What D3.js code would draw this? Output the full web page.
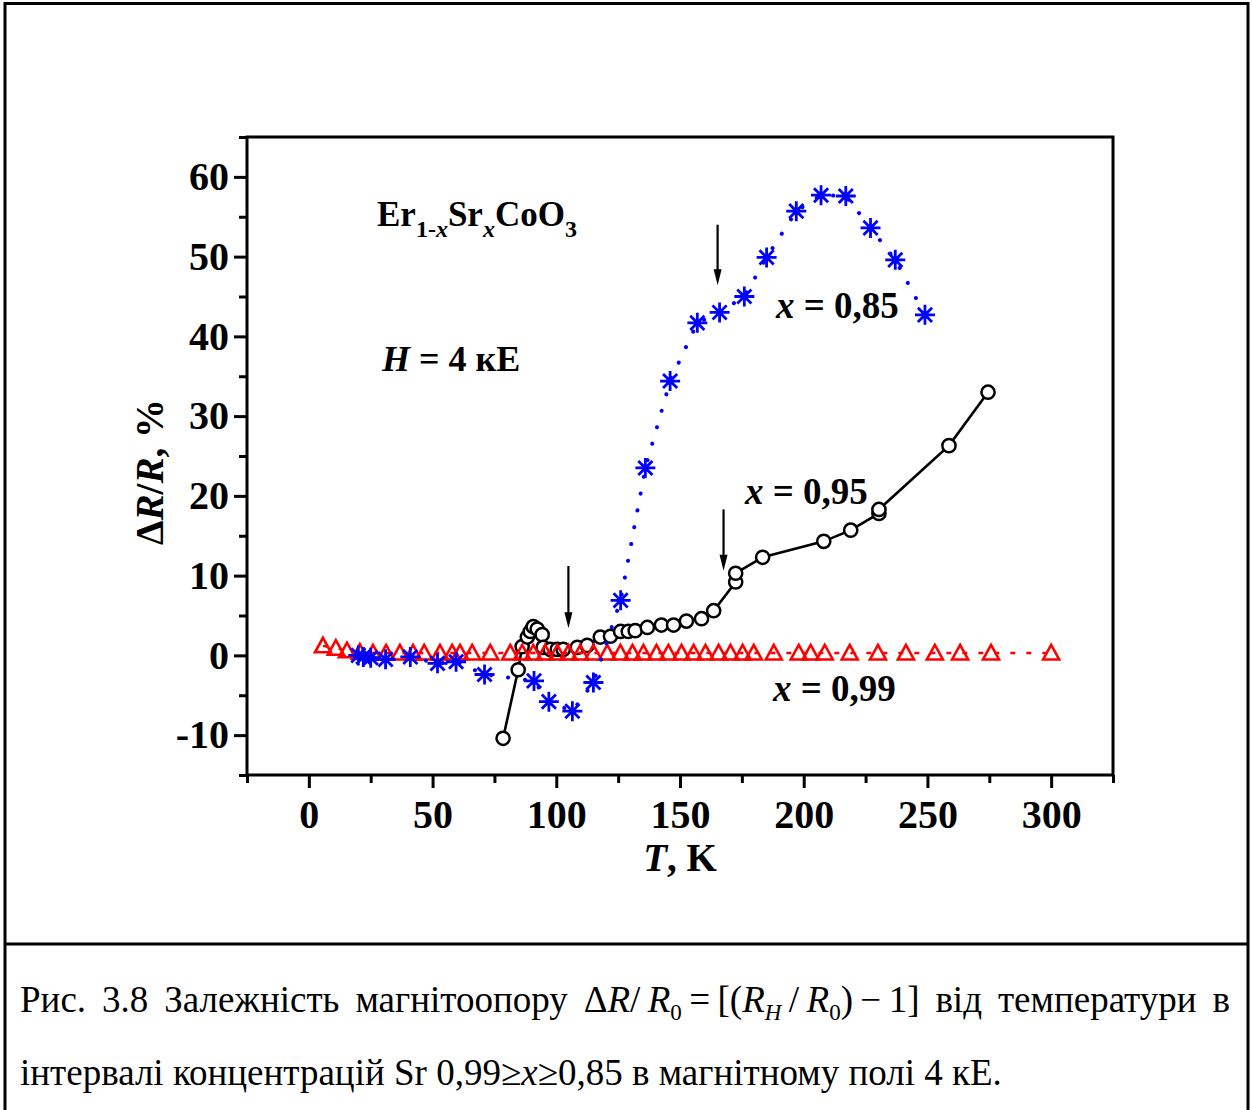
<!DOCTYPE html>
<html><head><meta charset="utf-8">
<script src="https://cdn.jsdelivr.net/npm/d3@7"></script>
<style>body{margin:0;background:#fff}svg{display:block}</style>
</head><body>
<svg id="c" width="1252" height="1110"></svg>
<script>
// ---- data ----
const T085 = [20, 22, 25, 31, 41, 52, 59.5, 71, 91, 97, 106.5, 115, 126, 136, 146, 157, 166, 176, 185, 197, 207, 217, 227, 237, 249];
const V085 = [0, -0.2, -0.3, -0.5, -0.2, -1.0, -0.8, -2.4, -3.2, -5.8, -7.0, -3.4, 6.9, 23.5, 34.4, 41.7, 43.0, 45.0, 49.9, 55.7, 57.7, 57.6, 53.6, 49.6, 42.7];

const T095 = [78.5, 84.6, 86.2, 88.3, 89.5, 90.7, 92.3, 94.3, 94.7, 97.6, 100.4, 102.8, 108.5, 112.5, 117.8, 121.9, 126, 129.1, 131.9, 136.8, 142.5, 147.4, 152.6, 158.7, 163.6, 172.5, 172.5, 183.4, 208.1, 219, 230.4, 230.4, 258.7, 274.5];
const V095 = [-10.4, -1.8, 1.1, 2.3, 3.0, 3.6, 3.3, 2.6, 1.0, 0.75, 0.75, 0.75, 1.0, 1.25, 2.3, 2.4, 3.0, 3.0, 3.1, 3.5, 3.8, 3.8, 4.3, 4.6, 5.6, 9.2, 10.3, 12.3, 14.3, 15.7, 17.8, 18.3, 26.3, 33.0];

const T099 = [5.7, 10.9, 15.4, 20.6, 25.9, 31.2, 36.8, 42.1, 46.6, 53.0, 57.9, 61.1, 66.0, 73.3, 81.4, 86.2, 90.7, 95.5, 100.4, 104.9, 109.7, 115.0, 120.6, 125.9, 130.8, 135.2, 140.5, 145.3, 150.6, 155.5, 160.3, 165.6, 170.4, 175.3, 179.8, 187.9, 198, 202.8, 208.5, 218.6, 230, 241.3, 253, 263.2, 275.7, 300];
const V099 = [1.2, 0.9, 0.6, 0.4, 0.3, 0.3, 0.3, 0.3, 0.3, 0.3, 0.3, 0.3, 0.3, 0.3, 0.3, 0.3, 0.3, 0.3, 0.3, 0.3, 0.3, 0.3, 0.3, 0.3, 0.3, 0.3, 0.3, 0.3, 0.3, 0.3, 0.3, 0.3, 0.3, 0.3, 0.3, 0.3, 0.3, 0.3, 0.3, 0.3, 0.3, 0.3, 0.3, 0.3, 0.3, 0.3];

const xMajor = [0, 50, 100, 150, 200, 250, 300];
const xMinor = [-25, 25, 75, 125, 175, 225, 275, 325];
const yMajor = [-10, 0, 10, 20, 30, 40, 50, 60];
const yMinor = [-15, -5, 5, 15, 25, 35, 45, 55, 65];

// arrows: [T, V start, V end]
const arrowsT = [104.9, 165.2, 167.6];
const arrowsV0 = [11.2, 54.0, 18.3];
const arrowsV1 = [3.4, 46.4, 10.6];

// ---- chart ----
const svg = d3.select('#c');
const F = '"Liberation Serif","Times New Roman",serif';
const L = 247, R = 1113, TOP = 137, BOT = 775;
const x = d3.scaleLinear().domain([-25, 325]).range([L, R]);
const y = d3.scaleLinear().domain([-15, 65]).range([BOT, TOP]);

// outer figure border
svg.append('path').attr('d', 'M5,1112 V3.5 H1248 V1112 M5,944 H1248')
  .attr('fill', 'none').attr('stroke', '#000').attr('stroke-width', 3);

// axes
function styleAxis(g, fs) {
  g.select('.domain').remove();
  g.selectAll('.tick line').attr('stroke', '#000').attr('stroke-width', 3);
  g.selectAll('text').attr('font-family', F).attr('font-weight', 'bold').attr('font-size', fs).attr('fill', '#000');
}
const fmt = d => String(d);
const gxMin = svg.append('g').attr('transform', `translate(0,${BOT})`)
  .call(d3.axisBottom(x).tickValues(xMinor).tickSize(8).tickFormat(''));
styleAxis(gxMin, 40);
const gx = svg.append('g').attr('transform', `translate(0,${BOT})`)
  .call(d3.axisBottom(x).tickValues(xMajor).tickSize(13).tickPadding(12).tickFormat(fmt));
styleAxis(gx, 40);
const gyMin = svg.append('g').attr('transform', `translate(${L},0)`)
  .call(d3.axisLeft(y).tickValues(yMinor).tickSize(8).tickFormat(''));
styleAxis(gyMin, 40);
const gy = svg.append('g').attr('transform', `translate(${L},0)`)
  .call(d3.axisLeft(y).tickValues(yMajor).tickSize(13).tickPadding(5).tickFormat(fmt));
styleAxis(gy, 40);

svg.append('rect').attr('x', L).attr('y', TOP).attr('width', R - L).attr('height', BOT - TOP)
  .attr('fill', 'none').attr('stroke', '#000').attr('stroke-width', 3);

const line = d3.line().x(d => x(d[0])).y(d => y(d[1]));
const d85 = T085.map((t, i) => [t, V085[i]]);
const d95 = T095.map((t, i) => [t, V095[i]]);
const d99 = T099.map((t, i) => [t, V099[i]]);

// x=0.95 : black solid line + open circles
svg.append('path').datum(d95).attr('d', line).attr('fill', 'none')
  .attr('stroke', '#000').attr('stroke-width', 2.6);
svg.append('g').selectAll('circle').data(d95).join('circle')
  .attr('cx', d => x(d[0])).attr('cy', d => y(d[1])).attr('r', 6.6)
  .attr('fill', '#fff').attr('stroke', '#000').attr('stroke-width', 2.5);

// x=0.99 : red dashed + open triangles
svg.append('path').datum(d99).attr('d', line).attr('fill', 'none')
  .attr('stroke', '#ff0000').attr('stroke-width', 2.4).attr('stroke-dasharray', '5 11');
const tri = 'M0,-8 L8,6.5 L-8,6.5 Z';
svg.append('g').selectAll('path').data(d99).join('path')
  .attr('transform', d => `translate(${x(d[0])},${y(d[1])})`).attr('d', tri)
  .attr('fill', 'none').attr('stroke', '#ff0000').attr('stroke-width', 2.6).attr('stroke-linejoin', 'miter');

// x=0.85 : blue dotted + asterisks
svg.append('path').datum(d85).attr('d', line).attr('fill', 'none')
  .attr('stroke', '#0000ff').attr('stroke-width', 4).attr('stroke-linecap', 'round')
  .attr('stroke-dasharray', '0.1 17');
const s = 10, d45 = s * Math.SQRT1_2;
const star = `M0,${-s}V${s}M${-s},0H${s}M${-d45},${-d45}L${d45},${d45}M${-d45},${d45}L${d45},${-d45}`;
svg.append('g').selectAll('path').data(d85).join('path')
  .attr('transform', d => `translate(${x(d[0])},${y(d[1])})`).attr('d', star)
  .attr('fill', 'none').attr('stroke', '#0000ff').attr('stroke-width', 2.8);

// arrows
arrowsT.forEach((t, i) => {
  const ax = x(t), y0 = y(arrowsV0[i]), y1 = y(arrowsV1[i]);
  svg.append('line').attr('x1', ax).attr('x2', ax).attr('y1', y0).attr('y2', y1 - 10)
    .attr('stroke', '#000').attr('stroke-width', 2.2);
  svg.append('path').attr('d', `M${ax - 4},${y1 - 16} L${ax + 4},${y1 - 16} L${ax},${y1} Z`).attr('fill', '#000');
});

// texts
function addText(px, py, parts, fs, opts = {}) {
  const t = svg.append('text').attr('x', px).attr('y', py).attr('font-family', F)
    .attr('font-size', fs).attr('font-weight', opts.normal ? 'normal' : 'bold').attr('fill', '#000');
  if (opts.anchor) t.attr('text-anchor', opts.anchor);
  if (opts.rotate) t.attr('transform', `rotate(${opts.rotate},${px},${py})`);
  parts.forEach(p => {
    const ts = t.append('tspan').text(p.t);
    if (p.i) ts.attr('font-style', 'italic');
    if (p.fs) ts.attr('font-size', p.fs);
    if (p.dy) ts.attr('dy', p.dy);
  });
  return t;
}
addText(377, 226, [{t: 'Er'}, {t: '1-', fs: 24, dy: 11}, {t: 'x', i: 1, fs: 24}, {t: 'Sr', dy: -11},
  {t: 'x', i: 1, fs: 24, dy: 11}, {t: 'CoO', dy: -11}, {t: '3', fs: 24, dy: 11}], 35);
addText(382, 371, [{t: 'H', i: 1}, {t: ' = 4 кЕ'}], 36);
addText(776, 318, [{t: 'x', i: 1}, {t: ' = 0,85'}], 37);
addText(745, 504, [{t: 'x', i: 1}, {t: ' = 0,95'}], 37);
addText(773, 701, [{t: 'x', i: 1}, {t: ' = 0,99'}], 37);

// axis titles
addText(680, 871, [{t: 'T', i: 1}, {t: ', K'}], 39, {anchor: 'middle'});
addText(163, 472, [{t: 'Δ'}, {t: 'R', i: 1}, {t: '/'}, {t: 'R', i: 1}, {t: ', %'}], 39, {anchor: 'middle', rotate: -90});

// caption
const cap1 = addText(20, 1012, [
  {t: 'Рис. 3.8 Залежність магнітоопору '},
  {t: 'Δ'}, {t: 'R', i: 1}, {t: '/\u2009'}, {t: 'R', i: 1}, {t: '0', fs: 23, dy: 8},
  {t: '\u2009=\u2009[(', dy: -8}, {t: 'R', i: 1}, {t: 'H', i: 1, fs: 23, dy: 8},
  {t: '\u2009/\u2009', dy: -8}, {t: 'R', i: 1}, {t: '0', fs: 23, dy: 8},
  {t: ')\u2009−\u20091]', dy: -8}, {t: ' від температури в'}], 37, {normal: 1});
const len = cap1.node().getComputedTextLength();
const nsp = (cap1.text().match(/ /g) || []).length;
cap1.attr('word-spacing', Math.max(0, (1230 - 20 - len) / nsp));
addText(20, 1085, [{t: 'інтервалі концентрацій Sr 0,99≥'}, {t: 'x', i: 1}, {t: '≥0,85 в магнітному полі 4 кЕ.'}], 37, {normal: 1});
</script>
</body></html>
